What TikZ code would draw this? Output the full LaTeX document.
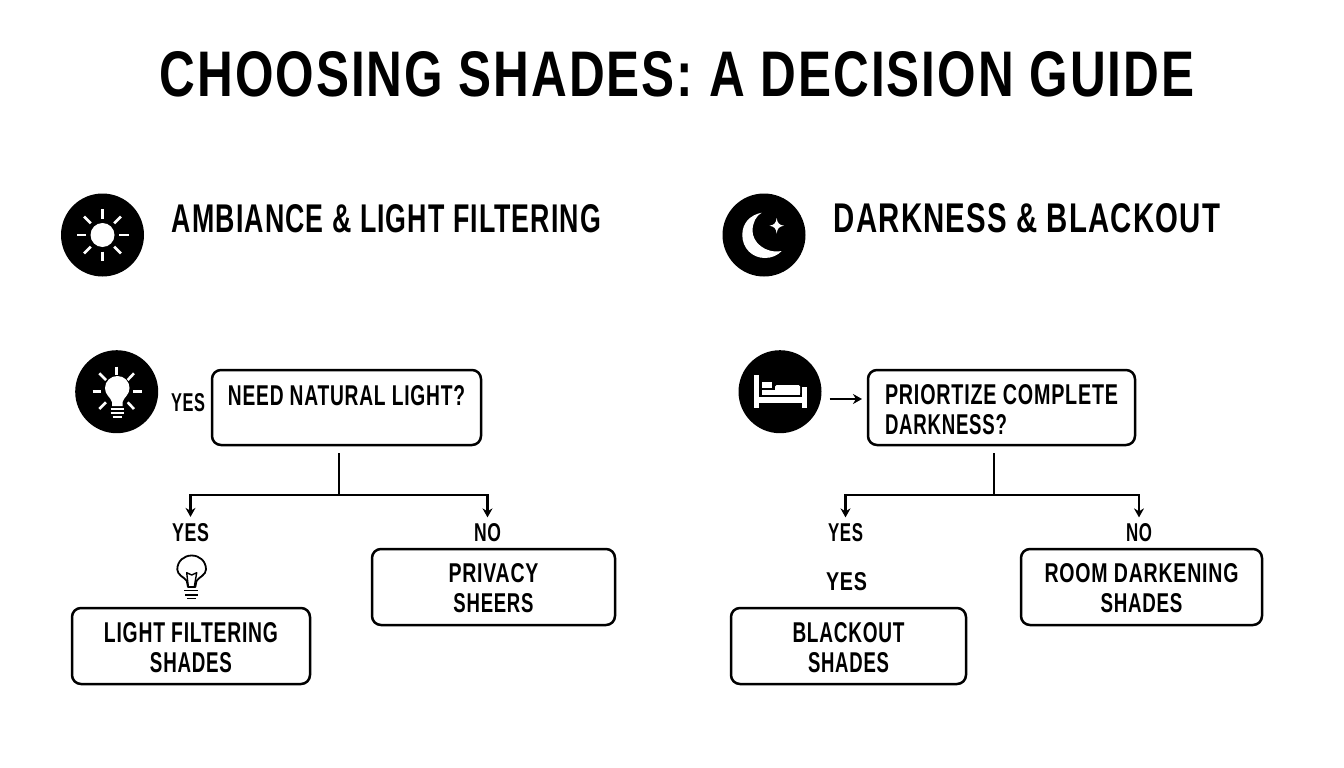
\documentclass[tikz,border=0pt]{standalone}
\usepackage{fontspec}
\setmainfont{Liberation Sans}[LetterSpace=4]
\usetikzlibrary{arrows.meta,calc}
\newcommand{\fitline}[3]{\resizebox{#1pt}{#2pt}{\bfseries #3}}
\tikzset{
  decbox/.style={draw=black,line width=2.5pt,rounded corners=9pt,fill=white,inner sep=0pt,outer sep=0pt,align=center,text=black},
  lbl/.style={inner sep=0pt,outer sep=0pt,text=black},
  iconbg/.style={circle,fill=black,inner sep=0pt,outer sep=0pt,minimum size=83pt},
  conn/.style={draw=black,line width=2.2pt},
  arrowc/.style={conn,-{Stealth[length=9pt,width=10pt]}},
  ray/.style={draw=white,line width=2.6pt},
}
\begin{document}
\begin{tikzpicture}[x=1pt,y=-1pt]
\useasboundingbox (0,0) rectangle (1344,768);
\fill[white] (0,0) rectangle (1344,768);

% titles
\node[lbl] (title) at (677,74.5) {\fitline{1034}{45}{CHOOSING SHADES: A DECISION GUIDE}};
\node[lbl] (h1) at (386.5,219) {\fitline{429}{28}{AMBIANCE \& LIGHT FILTERING}};
\node[lbl] (h2) at (1027,218.5) {\fitline{386}{29}{DARKNESS \& BLACKOUT}};

% icon discs
\node[iconbg] (sun) at (102.5,235) {};
\node[iconbg] (moon) at (764,235) {};
\node[iconbg] (bulb) at (116.7,391.7) {};
\node[iconbg] (bed) at (780,391.7) {};

% sun
\fill[white] (sun) circle (12pt);
\foreach \a in {0,45,...,315}{
  \draw[ray] ($(sun)+(\a:16.5)$) -- ($(sun)+(\a:26)$);
}

% moon
\fill[white] (761.7,212.7) .. controls (750,215) and (742.3,223) .. (742.3,235)
  .. controls (742.3,248) and (752,258) .. (765,258)
  .. controls (772,258) and (778,255) .. (781.7,251)
  .. controls (765,254) and (752,242) .. (752.5,230)
  .. controls (753,222) and (756,216) .. (761.7,212.7) -- cycle;
\fill[white] (776.7,218) .. controls (777.3,223) and (779,225) .. (784,225.7)
  .. controls (779,226.5) and (777.3,228.5) .. (776.7,233.5)
  .. controls (776,228.5) and (774.3,226.5) .. (769.5,225.7)
  .. controls (774.3,225) and (776,223) .. (776.7,218) -- cycle;

% lit bulb
\fill[white] (112,406) -- (112,402) .. controls (110.5,397) and (105,395) .. (105,388)
  .. controls (105,381) and (111,376) .. (117.3,376)
  .. controls (124,376) and (129.5,381) .. (129.5,388)
  .. controls (129.5,395) and (124,397) .. (122.5,402) -- (122.5,406) -- cycle;
\draw[white,line width=2pt] (110.7,408.7) -- (123.5,408.7);
\draw[white,line width=2pt] (110.7,412.5) -- (123.5,412.5);
\draw[white,line width=2pt] (112.5,416.5) -- (121.5,416.5);
\draw[ray] (116.7,366.7) -- (116.7,375);
\draw[ray] (92.7,391.7) -- (100.7,391.7);
\draw[ray] (133,391.7) -- (141.7,391.7);
\draw[ray] (99.3,373.3) -- (106,380);
\draw[ray] (134,373.3) -- (127.7,380);
\draw[ray] (99.3,409) -- (106,402.3);
\draw[ray] (134,409) -- (127.7,402.3);

% bed
\fill[white] (754.3,375) rectangle (759.3,408.3);
\fill[white] (802.3,387.3) rectangle (806.7,408.3);
\fill[white] (754.3,397) rectangle (806.7,403.3);
\fill[white] (762.3,381.7) rectangle (771.7,388);
\fill[white] (762,390) rectangle (800,394.5);
\fill[white,rounded corners=1.5pt] (775,385) rectangle (800,394.5);

% boxes
\node[decbox,minimum width=269pt,minimum height=75pt] (q1) at (346.5,407.5)
  {\raisebox{2.5pt}[0pt][0pt]{\fitline{237}{20}{NEED NATURAL LIGHT?}}};
\node[decbox,minimum width=267pt,minimum height=75pt,align=left] (q2) at (1001.5,407.5)
  {\rule{0pt}{24pt}\fitline{233}{20}{PRIORTIZE COMPLETE}\\[8pt] \fitline{122}{20}{DARKNESS?}};
\node[decbox,minimum width=243pt,minimum height=76pt] (priv) at (493.5,587)
  {\rule{0pt}{21pt}\fitline{90}{19}{PRIVACY}\\[9pt] \fitline{80}{19}{SHEERS}};
\node[decbox,minimum width=238pt,minimum height=76pt] (light) at (191,646)
  {\rule{0pt}{23pt}\fitline{174}{20}{LIGHT FILTERING}\\[8pt] \fitline{82}{20}{SHADES}};
\node[decbox,minimum width=235pt,minimum height=76pt] (black) at (848.5,646)
  {\rule{0pt}{23pt}\fitline{112}{20}{BLACKOUT}\\[8pt] \fitline{81}{20}{SHADES}};
\node[decbox,minimum width=241pt,minimum height=76pt] (room) at (1141.5,587)
  {\rule{0pt}{21pt}\fitline{194}{19}{ROOM DARKENING}\\[9pt] \fitline{82}{19}{SHADES}};

% labels
\node[lbl] (ysun) at (188,403) {\fitline{34}{18}{YES}};
\node[lbl] (yl) at (190.5,532.5) {\fitline{37}{18}{YES}};
\node[lbl] (nl) at (487.5,533) {\fitline{27}{18}{NO}};
\node[lbl] (yr) at (845.5,533) {\fitline{35}{18}{YES}};
\node[lbl] (nr) at (1139,533) {\fitline{26}{18}{NO}};
\node[lbl] (ybig) at (846.5,582) {\fitline{41}{18}{YES}};

% outlined bulb
\draw[black,line width=1.8pt,line join=round] (188,587) -- (186.8,581)
  .. controls (184,577) and (177.3,575) .. (177.3,569.5)
  .. controls (177.3,561) and (184,555.5) .. (191.7,555.5)
  .. controls (199.5,555.5) and (206,561) .. (206,569.5)
  .. controls (206,575) and (199,577) .. (196.5,581) -- (195.3,587) -- cycle;
\draw[black,line width=1.4pt,line join=round] (188.3,586.7) -- (186.7,572.7) -- (191.7,575) -- (196.7,572.7) -- (194.3,586.7);
\draw[black,line width=1.8pt] (184.3,590.5) -- (198,590.5);
\draw[black,line width=1.8pt] (185,594.7) -- (197.5,594.7);
\draw[black,line width=1.8pt] (187,598.5) -- (195.5,598.5);

% connectors
\coordinate (jl) at (339,495);
\coordinate (jr) at (994,495);
\coordinate (aa) at (845,399);
\draw[conn] (q1.south -| jl) ++(0,8) -- (jl);
\draw[arrowc,shorten >=6.5pt] (jl) -| (yl.north);
\draw[arrowc,shorten >=6.5pt] (jl) -| (nl.north);
\draw[conn] (q2.south -| jr) ++(0,8) -- (jr);
\draw[arrowc,shorten >=6.5pt] (jr) -| (yr.north);
\draw[arrowc,shorten >=6.5pt] (jr) -| (nr.north);
\draw[arrowc,shorten <=8pt,shorten >=6pt] (bed.east |- aa) -- (q2.west |- aa);
\end{tikzpicture}
\end{document}
